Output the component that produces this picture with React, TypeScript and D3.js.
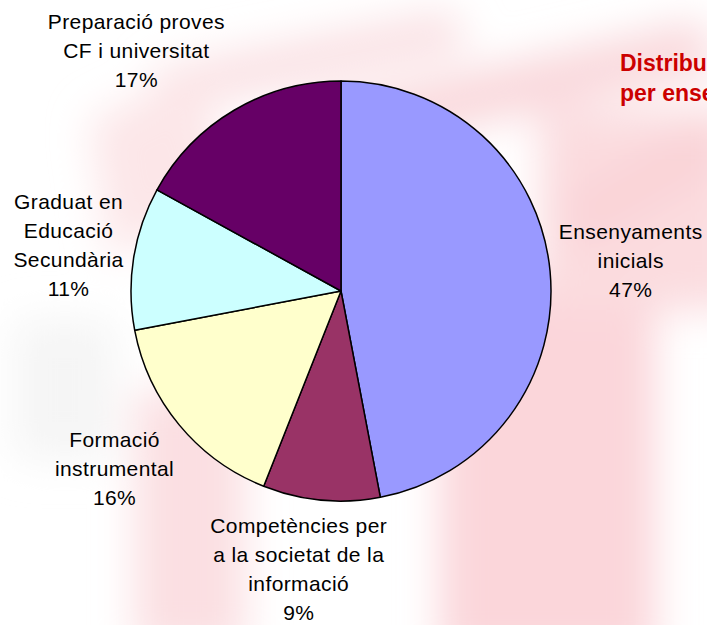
import React from 'react';
import * as d3 from 'd3';

// Slice values (percent), clockwise from 12 o'clock
const categories = [
  'Ensenyaments inicials',
  'Competències per a la societat de la informació',
  'Formació instrumental',
  'Graduat en Educació Secundària',
  'Preparació proves CF i universitat',
];
const values = [47, 9, 16, 11, 17];
const colors = ['#9999FF', '#993366', '#FFFFCC', '#CCFFFF', '#660066'];
const labelLines = [
  ['Ensenyaments', 'inicials'],
  ['Competències per', 'a la societat de la', 'informació'],
  ['Formació', 'instrumental'],
  ['Graduat en', 'Educació', 'Secundària'],
  ['Preparació proves', 'CF i universitat'],
];
const titleLines = ['Distribució', 'per ensenyaments'];

const W = 707;
const H = 625;
const cx = 341;
const cy = 291;
const radius = 210;
const labelRadius = 290;
const lineH = 29;
// small per-label nudges, like the spreadsheet's hand placed labels
const nudges: [number, number][] = [
  [1, -3],
  [-15, -10],
  [-3, -7],
  [14, 0],
  [-57, 10],
];

export default function App() {
  const pie = d3
    .pie<number>()
    .sort(null)
    .value(d => d)
    .startAngle(0)
    .endAngle(2 * Math.PI);
  const arcs = pie(values);
  const total = d3.sum(values);

  const arc = d3.arc<d3.PieArcDatum<number>>().innerRadius(0).outerRadius(radius);
  const labelArc = d3
    .arc<d3.PieArcDatum<number>>()
    .innerRadius(labelRadius)
    .outerRadius(labelRadius);

  const font = '"Liberation Sans", Arial, sans-serif';

  return (
    <svg
      width={W}
      height={H}
      style={{ position: 'absolute', left: 0, top: 0, display: 'block' }}
    >
      <defs>
        <filter id="soft" x="-20%" y="-20%" width="140%" height="140%">
          <feGaussianBlur stdDeviation="20" />
        </filter>
      </defs>
      <rect width={W} height={H} fill="#ffffff" />

      {/* faint watermark in the slide background */}
      <g filter="url(#soft)">
        <rect x={440} y={280} width={215} height={380} fill="#fbd6da" />
        <rect x={540} y={110} width={200} height={200} fill="#fbdcdf" />
        <rect x={135} y={390} width={110} height={260} fill="#fbdfe2" />
        <rect x={15} y={320} width={100} height={140} fill="#f5f5f5" />
        <polygon points="150,70 450,10 470,50 170,110" fill="#fae0e3" />
        <polygon points="300,110 700,20 720,70 320,160" fill="#f9d8dc" />
        <polygon points="560,200 720,110 720,170 580,250" fill="#f9d3d7" />
        <polygon points="90,120 200,70 230,200 110,260" fill="#fce6e8" />
      </g>

      <g transform={`translate(${cx},${cy})`}>
        {arcs.map((a, i) => (
          <path
            key={categories[i]}
            d={arc(a) ?? ''}
            fill={colors[i]}
            stroke="#000"
            strokeWidth={1.5}
            strokeLinejoin="round"
          />
        ))}
      </g>

      <g fontFamily={font} fontSize={21} letterSpacing={0.4} fill="#000" textAnchor="middle">
        {arcs.map((a, i) => {
          const [lx, ly] = labelArc.centroid(a);
          const lines = [...labelLines[i], `${Math.round((a.value / total) * 100)}%`];
          const x = cx + lx + nudges[i][0];
          const first = cy + ly + 7 - ((lines.length - 1) * lineH) / 2 + nudges[i][1];
          return (
            <text key={categories[i]} x={x} y={first}>
              {lines.map((t, j) => (
                <tspan key={j} x={x} y={first + j * lineH}>
                  {t}
                </tspan>
              ))}
            </text>
          );
        })}
      </g>

      <g fontFamily={font} fontSize={23} fontWeight="bold" fill="#CC0000">
        {titleLines.map((t, j) => (
          <text key={t} x={620} y={71 + j * 30}>
            {t}
          </text>
        ))}
      </g>
    </svg>
  );
}
